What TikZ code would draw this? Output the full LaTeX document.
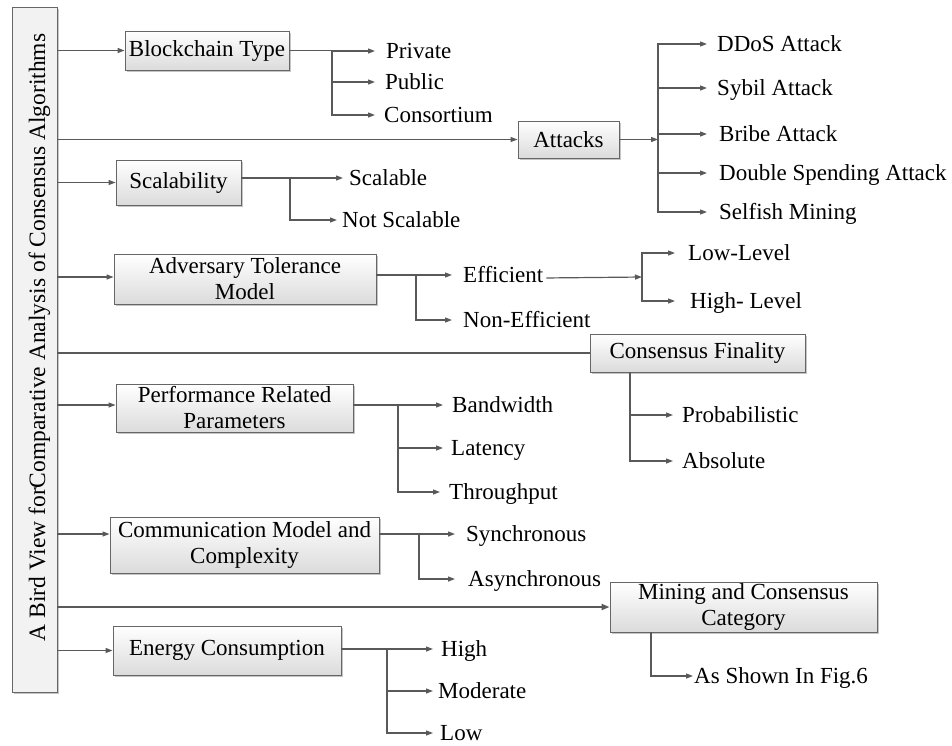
\documentclass[tikz,border=0pt]{standalone}
\usepackage{fontspec}
\setmainfont{Liberation Serif}
\usetikzlibrary{arrows.meta,shadows}
\newcommand\myfs{\fontsize{23}{26}\selectfont}
\begin{document}
\begin{tikzpicture}[x=1pt,y=-1pt,
  ln/.style={draw=black!65, line width=1.2pt},
  arr/.style={ln, -{Triangle[length=7pt,width=5pt]}},
  box/.style={draw=black!60, line width=0.9pt, top color=white, bottom color=black!14,
    drop shadow={shadow xshift=2pt, shadow yshift=-2pt, fill=black!45, opacity=0.5},
    inner sep=0pt, align=center, font=\myfs},
  leaf/.style={font=\myfs, inner sep=0pt, text height=15pt, text depth=0pt, anchor=west}
]
\useasboundingbox (0,0) rectangle (952,745);

% root
\node[draw=black!60, line width=0.9pt, fill=black!5,
  drop shadow={shadow xshift=2pt, shadow yshift=-2pt, fill=black!45, opacity=0.5},
  minimum width=45pt, minimum height=685pt, inner sep=0pt] (root) at (34.5,349.5) {};
\node[rotate=90, anchor=base, font=\fontsize{23.5}{26}\selectfont, inner sep=0pt] (roottext) at (45,337.5)
  {A Bird View forComparative Analysis of Consensus Algorithms};

% first-level boxes
\node[box, minimum width=164pt, minimum height=39pt] (bt) at (207,50.5) {Blockchain Type};
\node[box, minimum width=101pt, minimum height=37pt] (att) at (568.5,139.5) {Attacks};
\node[box, minimum width=125pt, minimum height=45pt] (sca) at (178.5,182.5) {Scalability};
\node[box, minimum width=262pt, minimum height=50pt] (atm) at (245,279) {Adversary Tolerance\\Model};
\node[box, minimum width=215pt, minimum height=38pt] (cf) at (697.5,353) {Consensus Finality};
\node[box, minimum width=237pt, minimum height=48pt] (prp) at (234.5,408) {Performance Related\\Parameters};
\node[box, minimum width=269pt, minimum height=56pt] (cmc) at (244.5,545) {Communication Model and\\Complexity};
\node[box, minimum width=267pt, minimum height=50pt] (mcc) at (743.5,607) {Mining and Consensus\\Category};
\node[box, minimum width=228pt, minimum height=49pt] (ec) at (227,650.5) {Energy Consumption};

% root connectors
\draw[arr] (root.east |- bt.west) -- (bt.west);
\draw[arr] (root.east |- att.west) -- (att.west);
\draw[arr] (root.east |- sca.west) -- (sca.west);
\draw[arr] ([yshift=2pt]atm.west -| root.east) -- ([yshift=2pt]atm.west);
\draw[ln] (root.east |- cf.west) -- (cf.west);
\draw[arr] ([yshift=3pt]prp.west -| root.east) -- ([yshift=3pt]prp.west);
\draw[arr] ([yshift=11pt]cmc.west -| root.east) -- ([yshift=11pt]cmc.west);
\draw[ln, line width=2pt, -{Triangle[length=8pt,width=6pt]}] (root.east |- mcc.west) -- (mcc.west);
\draw[arr] (root.east |- ec.west) -- (ec.west);

% Blockchain type
\coordinate (j1) at (332,50.5);
\node[leaf] (private) at (386,51) {Private};
\node[leaf] (public) at (385,82) {Public};
\node[leaf] (consortium) at (384,115) {Consortium};
\draw[ln] (bt.east) -- (j1);
\draw[arr, shorten >=11pt] (j1) |- (private.west);
\draw[arr, shorten >=10pt] (j1) |- (public.west);
\draw[arr, shorten >=9pt] (j1) |- (consortium.west);

% Attacks
\coordinate (j2) at (658,139.5);
\node[leaf] (ddos) at (717,44) {DDoS Attack};
\node[leaf] (sybil) at (717,88) {Sybil Attack};
\node[leaf] (bribe) at (719,134) {Bribe Attack};
\node[leaf] (double) at (719,173) {Double Spending Attack};
\node[leaf] (selfish) at (719,212) {Selfish Mining};
\draw[arr] (att.east) -- (j2);
\draw[arr, shorten >=10pt] (j2) |- (ddos.west);
\draw[arr, shorten >=10pt] (j2) |- (sybil.west);
\draw[arr, shorten >=12pt] (j2) |- (bribe.west);
\draw[arr, shorten >=12pt] (j2) |- (double.west);
\draw[arr, shorten >=12pt] (j2) |- (selfish.west);

% Scalability
\coordinate (j3) at (290,178);
\node[leaf] (scalable) at (349,178) {Scalable};
\node[leaf] (notscal) at (342,220) {Not Scalable};
\draw[ln] (sca.east |- j3) -- (j3);
\draw[arr, shorten >=6pt] (j3) |- (scalable.west);
\draw[arr, shorten >=5pt] (j3) |- (notscal.west);

% Adversary tolerance
\coordinate (j4) at (416,275);
\coordinate (j5) at (642,277);
\node[leaf] (eff) at (463,275) {Efficient};
\node[leaf] (noneff) at (463,320) {Non-Efficient};
\node[leaf] (lowlev) at (688,253) {Low-Level};
\node[leaf] (highlev) at (690,301) {High- Level};
\draw[ln] (atm.east |- j4) -- (j4);
\draw[arr, shorten >=11pt] (j4) |- (noneff.west);
\draw[arr, shorten >=11pt] (j4) -- (eff.west);
\draw[arr, shorten <=3pt] ([yshift=-3pt]eff.east) -- (j5);
\draw[arr, shorten >=13pt] (j5) |- (lowlev.west);
\draw[arr, shorten >=15pt] (j5) |- (highlev.west);

% Consensus finality
\coordinate (j6) at (630,372);
\node[leaf] (prob) at (682,415) {Probabilistic};
\node[leaf] (absol) at (682,461) {Absolute};
\draw[arr, shorten >=9pt] (j6) |- (prob.west);
\draw[arr, shorten >=9pt] (j6) |- (absol.west);

% Performance
\coordinate (j7) at (398,405);
\node[leaf] (bandw) at (452,405) {Bandwidth};
\node[leaf] (laten) at (451,448) {Latency};
\node[leaf] (thru) at (449,492) {Throughput};
\draw[ln] (prp.east |- j7) -- (j7);
\draw[arr, shorten >=9pt] (j7) |- (bandw.west);
\draw[arr, shorten >=8pt] (j7) |- (laten.west);
\draw[arr, shorten >=9pt] (j7) |- (thru.west);

% Communication
\coordinate (j8) at (419,534);
\node[leaf] (sync) at (466,534) {Synchronous};
\node[leaf] (async) at (468,579) {Asynchronous};
\draw[ln] (cmc.east |- j8) -- (j8);
\draw[arr, shorten >=11pt] (j8) |- (sync.west);
\draw[arr, shorten >=13pt] (j8) |- (async.west);

% Mining
\coordinate (j9) at (651,632);
\node[leaf] (fig) at (694,676) {As Shown In Fig.6};
\draw[arr, shorten >=1pt] (j9) |- (fig.west);

% Energy
\coordinate (j10) at (387,649);
\node[leaf] (high) at (441,649) {High};
\node[leaf] (moder) at (438,691) {Moderate};
\node[leaf] (low) at (440,733) {Low};
\draw[ln] (ec.east |- j10) -- (j10);
\draw[arr, shorten >=8pt] (j10) |- (high.west);
\draw[arr, shorten >=5pt] (j10) |- (moder.west);
\draw[arr, shorten >=7pt] (j10) |- (low.west);
\end{tikzpicture}
\end{document}
